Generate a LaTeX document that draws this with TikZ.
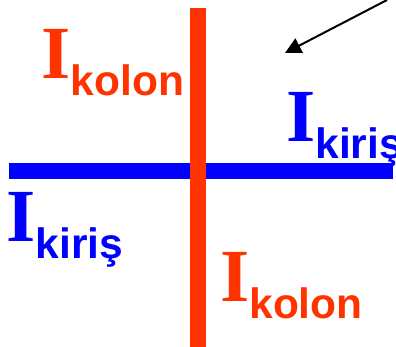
\documentclass[tikz,border=0pt]{standalone}
\usepackage{fontspec}
\setmainfont{Liberation Serif}
\newfontfamily\subfnt{Liberation Sans}
\usetikzlibrary{arrows.meta}
\definecolor{kolonc}{HTML}{FF3300}
\definecolor{kirisc}{HTML}{0000FF}
\newcommand{\bigI}{\fontsize{75}{75}\selectfont\bfseries I}
\newcommand{\sublab}[1]{\raisebox{-16.5pt}{\subfnt\fontsize{42.5}{42.5}\selectfont\bfseries #1}}
\tikzset{
  lab/.style={inner sep=0pt, anchor=base west},
  barline/.style={draw=none}
}
\begin{document}
\begin{tikzpicture}[x=1pt,y=1pt]
\useasboundingbox (0,0) rectangle (396,347);
\clip (0,0) rectangle (396,347);
% horizontal beam (kiris)
\fill[kirisc] (8.5,168) rectangle (393,183.7);
% vertical column (kolon)
\fill[kolonc] (190,0) rectangle (205.5,339.3);
% labels
\node[lab, text=kolonc] (k1) at (41.5,268) {\bigI\sublab{kolon}};
\node[lab, text=kolonc] (k2) at (220,45.3) {\bigI\sublab{kolon}};
\node[lab, text=kirisc] (b1) at (6.5,105.3) {\bigI\sublab{kiriş}};
\node[lab, text=kirisc] (b2) at (286,205) {\bigI\sublab{kiriş}};
% arrow
\coordinate (as) at (387,347);
\coordinate (ae) at (285,294);
\draw[line width=2pt, -{Triangle[length=16pt,width=16pt]}] (as) -- (ae);
\end{tikzpicture}
\end{document}
